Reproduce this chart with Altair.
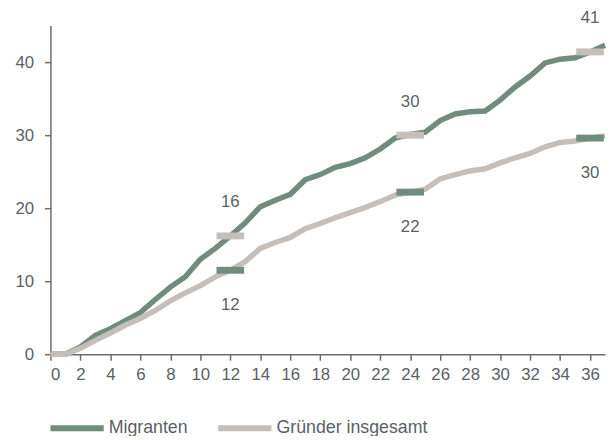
import altair as alt
import pandas as pd

months = list(range(38))
migranten = [0, 0, 1.0, 2.6, 3.5, 4.6, 5.7, 7.5, 9.2, 10.6, 13.0, 14.5, 16.2, 18.0,
             20.2, 21.1, 21.9, 23.9, 24.6, 25.6, 26.1, 26.9, 28.1, 29.6, 30.1, 30.4,
             32.0, 32.9, 33.2, 33.3, 34.8, 36.6, 38.1, 39.9, 40.4, 40.6, 41.4, 42.3]
gruender = [0, 0, 0.8, 1.9, 2.9, 4.0, 4.9, 6.0, 7.3, 8.4, 9.4, 10.6, 11.5, 12.7,
            14.5, 15.3, 16.0, 17.2, 17.9, 18.7, 19.4, 20.1, 20.9, 21.8, 22.2, 22.6,
            24.0, 24.6, 25.1, 25.4, 26.2, 26.9, 27.5, 28.4, 29.0, 29.2, 29.6, 29.9]

marker_months = [12, 24, 36]
marker_migranten = [16.2, 30.0, 41.4]
marker_migranten_labels = ["16", "30", "41"]
marker_gruender = [11.5, 22.2, 29.6]
marker_gruender_labels = ["12", "22", "30"]

series = ["Migranten", "Gründer insgesamt"]
colors = ["#6f8c7c", "#c5beb9"]
text_color = "#5b5f66"
font = "Liberation Sans"

df_m = pd.DataFrame({"x": months, "y": migranten, "s": series[0]})
df_g = pd.DataFrame({"x": months, "y": gruender, "s": series[1]})
mk_m = pd.DataFrame({"x": marker_months, "y": marker_migranten, "t": marker_migranten_labels})
mk_g = pd.DataFrame({"x": marker_months, "y": marker_gruender, "t": marker_gruender_labels})

xs = alt.Scale(domain=[0, 37], nice=False, zero=False)
ys = alt.Scale(domain=[0, 45], nice=False)

X = alt.X("x:Q", scale=xs, axis=alt.Axis(values=list(range(0, 37, 2)), title=None,
                                           grid=False, labelPadding=7))
Y = alt.Y("y:Q", scale=ys, axis=alt.Axis(values=[0, 10, 20, 30, 40], title=None,
                                           grid=False, labelPadding=11))

color = alt.Color("s:N", scale=alt.Scale(domain=series, range=colors),
                  legend=alt.Legend(orient="none", legendX=-3, legendY=378,
                                    direction="horizontal", title=None,
                                    symbolType="stroke", symbolSize=2916,
                                    symbolStrokeWidth=6, labelFontSize=18,
                                    labelFont=font, labelColor=text_color,
                                    labelOffset=2, columnPadding=18, padding=0,
                                    labelLimit=300))

line_m = alt.Chart(df_m).mark_line(strokeWidth=5.5).encode(x=X, y=Y, color=color)
line_g = alt.Chart(df_g).mark_line(strokeWidth=5.5).encode(x=X, y=Y, color=color)

tick_m = alt.Chart(mk_m).mark_tick(orient="horizontal", size=28, thickness=7,
                                   color=colors[1], opacity=1).encode(x=X, y=Y)
tick_g = alt.Chart(mk_g).mark_tick(orient="horizontal", size=28, thickness=7,
                                   color=colors[0], opacity=1).encode(x=X, y=Y)
text_m = alt.Chart(mk_m).mark_text(dy=-34, fontSize=17, font=font,
                                   color=text_color).encode(x=X, y=Y, text="t:N")
text_g = alt.Chart(mk_g).mark_text(dy=35, fontSize=17, font=font,
                                   color=text_color).encode(x=X, y=Y, text="t:N")

chart = alt.layer(line_m, line_g, tick_m, tick_g, text_m, text_g).properties(
    width=562, height=333,
    autosize=alt.AutoSizeParams(type="none"),
    padding={"left": 43, "top": 15, "right": 3, "bottom": 80},
).configure_view(stroke=None).configure_axis(
    domainColor="#6b6b6b", tickColor="#6b6b6b", tickSize=6, domainWidth=1.5,
    tickWidth=1.5, labelFont=font, labelFontSize=17, labelColor=text_color,
)

chart.save("out.html", embed_options={"renderer": "svg", "actions": False})
